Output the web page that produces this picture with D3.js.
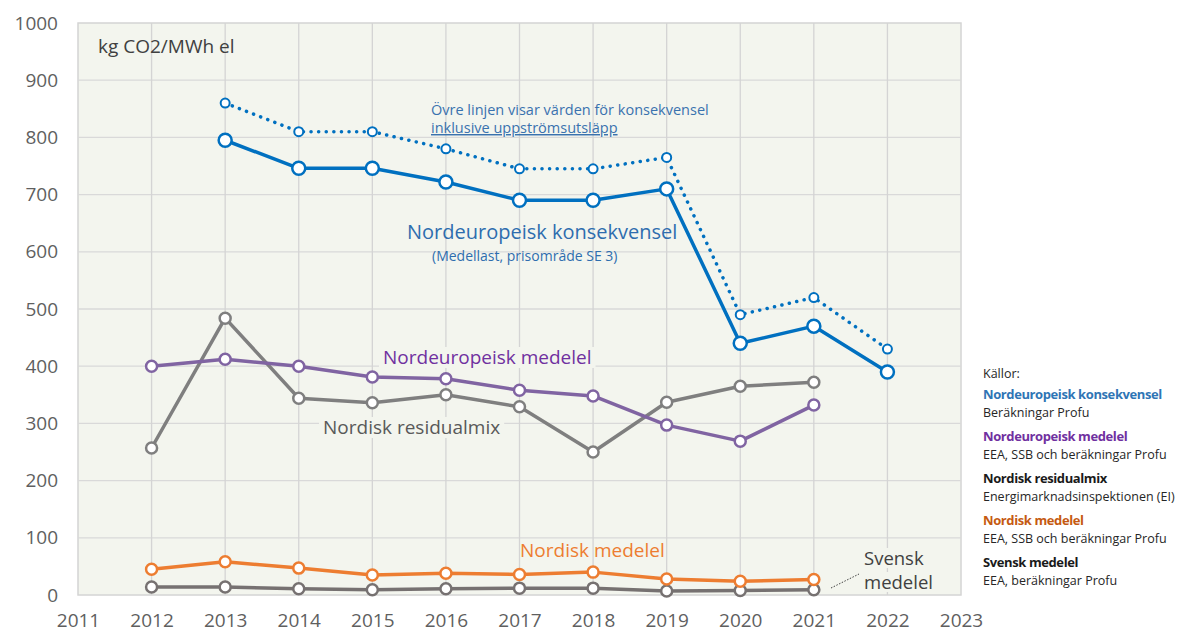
<!DOCTYPE html>
<html>
<head>
<meta charset="utf-8">
<script src="https://cdn.jsdelivr.net/npm/d3@7"></script>
<style>
  body { margin: 0; background: #fff; }
  svg text { font-family: "Open Sans", "Noto Sans", sans-serif; }
</style>
</head>
<body>
<div id="chart"></div>
<script>
// data
const konsYears = [2013, 2014, 2015, 2016, 2017, 2018, 2019, 2020, 2021, 2022];
const konsekvensel = [795, 746, 746, 722, 690, 690, 710, 440, 470, 390];
const konsekvenselUpp = [860, 810, 810, 780, 745, 745, 765, 490, 520, 430];
const medYears = [2012, 2013, 2014, 2015, 2016, 2017, 2018, 2019, 2020, 2021];
const nordeuMedelel = [400, 412, 400, 381, 378, 358, 348, 297, 269, 332];
const residualmix = [257, 484, 344, 336, 350, 329, 250, 337, 365, 372];
const nordiskMedelel = [45, 58, 47, 35, 38, 36, 40, 28, 24, 27];
const svenskMedelel = [14, 14, 11, 9, 11, 12, 12, 7, 8, 9];
const xTicks = [2011, 2012, 2013, 2014, 2015, 2016, 2017, 2018, 2019, 2020, 2021, 2022, 2023];
const yTicks = [0, 100, 200, 300, 400, 500, 600, 700, 800, 900, 1000];

const legendItems = [
  { name: "Nordeuropeisk konsekvensel", src: "Beräkningar Profu", color: "#2F75B5" },
  { name: "Nordeuropeisk medelel", src: "EEA, SSB och beräkningar Profu", color: "#7030A0" },
  { name: "Nordisk residualmix", src: "Energimarknadsinspektionen (EI)", color: "#1a1a1a" },
  { name: "Nordisk medelel", src: "EEA, SSB och beräkningar Profu", color: "#C55A11" },
  { name: "Svensk medelel", src: "EEA, beräkningar Profu", color: "#1a1a1a" }
];

const W = 1200, H = 634;
const margin = { top: 23, right: 239, bottom: 39, left: 78 };
const width = W - margin.left - margin.right;
const height = H - margin.top - margin.bottom;
const bg = "#F3F5EE";

const svg = d3.select("#chart").append("svg")
  .attr("width", W).attr("height", H);

const g = svg.append("g")
  .attr("transform", `translate(${margin.left},${margin.top})`);

const x = d3.scaleLinear().domain([2011, 2023]).range([0, width]);
const y = d3.scaleLinear().domain([0, 1000]).range([height, 0]);

// plot area
g.append("rect")
  .attr("width", width).attr("height", height)
  .attr("fill", bg).attr("stroke", "#D4D4D4").attr("stroke-width", 1.5);

// grid
g.append("g").selectAll("line").data(yTicks.slice(1, -1)).join("line")
  .attr("x1", 0).attr("x2", width)
  .attr("y1", d => y(d)).attr("y2", d => y(d))
  .attr("stroke", "#D9D9D9").attr("stroke-width", 1.3);
g.append("g").selectAll("line").data(xTicks.slice(1, -1)).join("line")
  .attr("x1", d => x(d)).attr("x2", d => x(d))
  .attr("y1", 0).attr("y2", height)
  .attr("stroke", "#D4D4D4").attr("stroke-width", 1.3);

// axes
const yAxis = d3.axisLeft(y).tickValues(yTicks).tickSize(0).tickPadding(20).tickFormat(d3.format("d"));
const xAxis = d3.axisBottom(x).tickValues(xTicks).tickSize(0).tickPadding(19).tickFormat(d3.format("d"));

g.append("g").call(yAxis)
  .call(a => a.select(".domain").remove())
  .selectAll("text").attr("font-size", 19).attr("fill", "#5f5f5f")
  .style("font-family", "'Open Sans', sans-serif");
g.append("g").attr("transform", `translate(0,${height})`).call(xAxis)
  .call(a => a.select(".domain").remove())
  .selectAll("text").attr("font-size", 19).attr("fill", "#5f5f5f")
  .style("font-family", "'Open Sans', sans-serif");

// label with a background box that hides gridlines behind it
function boxLabel(txt, tx, ty, size, color) {
  const t = g.append("text").attr("x", tx).attr("y", ty)
    .attr("font-size", size).attr("fill", color).text(txt);
  const b = t.node().getBBox();
  g.insert("rect", () => t.node())
    .attr("x", b.x - 4).attr("y", b.y + 3).attr("width", b.width + 8).attr("height", b.height - 5)
    .attr("fill", bg);
  return t;
}

function series(xs, vals, color, lw, r, sw, dotted) {
  const pts = xs.map((yr, i) => [yr, vals[i]]);
  const line = d3.line().x(d => x(d[0])).y(d => y(d[1]));
  const p = g.append("path").datum(pts)
    .attr("d", line).attr("fill", "none")
    .attr("stroke", color).attr("stroke-width", lw)
    .attr("stroke-linejoin", "round");
  if (dotted) p.attr("stroke-dasharray", "0.1 7.5").attr("stroke-linecap", "round");
  g.append("g").selectAll("circle").data(pts).join("circle")
    .attr("cx", d => x(d[0])).attr("cy", d => y(d[1]))
    .attr("r", r).attr("fill", "#fff")
    .attr("stroke", color).attr("stroke-width", sw);
}

// labels sitting under the lines
boxLabel("Nordeuropeisk medelel", 383 - margin.left, 364 - margin.top, 19, "#7030A0");
boxLabel("Nordisk residualmix", 323 - margin.left, 434 - margin.top, 19, "#595959");
boxLabel("Svensk", 864 - margin.left, 565 - margin.top, 18.5, "#404040");
boxLabel("medelel", 864 - margin.left, 589 - margin.top, 18.5, "#404040");

series(medYears, svenskMedelel, "#767171", 3.5, 5.5, 2.5, false);
series(medYears, nordiskMedelel, "#ED7D31", 3.5, 5.5, 2.5, false);
series(medYears, residualmix, "#7F7F7F", 3.5, 5.5, 2.5, false);
series(medYears, nordeuMedelel, "#8064A2", 3.5, 5.5, 2.5, false);
series(konsYears, konsekvenselUpp, "#0070C0", 3.5, 4.5, 2, true);
series(konsYears, konsekvensel, "#0070C0", 3.5, 6.5, 2.5, false);

// annotations
g.append("text").attr("x", 98 - margin.left).attr("y", 53 - margin.top)
  .attr("font-size", 19).attr("fill", "#404040").text("kg CO2/MWh el");

g.append("text").attr("x", 431 - margin.left).attr("y", 115 - margin.top)
  .attr("font-size", 14.5).attr("fill", "#3A72AE")
  .text("Övre linjen visar värden för konsekvensel");
g.append("text").attr("x", 431 - margin.left).attr("y", 133 - margin.top)
  .attr("font-size", 14.5).attr("fill", "#3A72AE")
  .attr("text-decoration", "underline")
  .text("inklusive uppströmsutsläpp");

g.append("text").attr("x", 407 - margin.left).attr("y", 239 - margin.top)
  .attr("font-size", 20).attr("fill", "#2E6DAE").text("Nordeuropeisk konsekvensel");
g.append("text").attr("x", 432 - margin.left).attr("y", 261 - margin.top)
  .attr("font-size", 14).attr("fill", "#2E6DAE").text("(Medellast, prisområde SE 3)");

g.append("text").attr("x", 520 - margin.left).attr("y", 557 - margin.top)
  .attr("font-size", 19).attr("fill", "#ED7D31").text("Nordisk medelel");

g.append("line")
  .attr("x1", 831 - margin.left).attr("y1", 588 - margin.top)
  .attr("x2", 859 - margin.left).attr("y2", 574 - margin.top)
  .attr("stroke", "#404040").attr("stroke-width", 1).attr("stroke-dasharray", "1.5 1.5");

// sources legend
const lg = svg.append("g").attr("transform", "translate(983,0)");
lg.append("text").attr("x", 0).attr("y", 378)
  .attr("font-size", 12.5).attr("fill", "#262626").text("Källor:");
legendItems.forEach((d, i) => {
  const y0 = 399 + i * 42;
  lg.append("text").attr("x", 0).attr("y", y0)
    .attr("font-size", 13).attr("font-weight", "bold").attr("fill", d.color)
    .attr("letter-spacing", -0.4).text(d.name);
  lg.append("text").attr("x", 0).attr("y", y0 + 18)
    .attr("font-size", 12.5).attr("fill", "#262626").text(d.src);
});
</script>
</body>
</html>
